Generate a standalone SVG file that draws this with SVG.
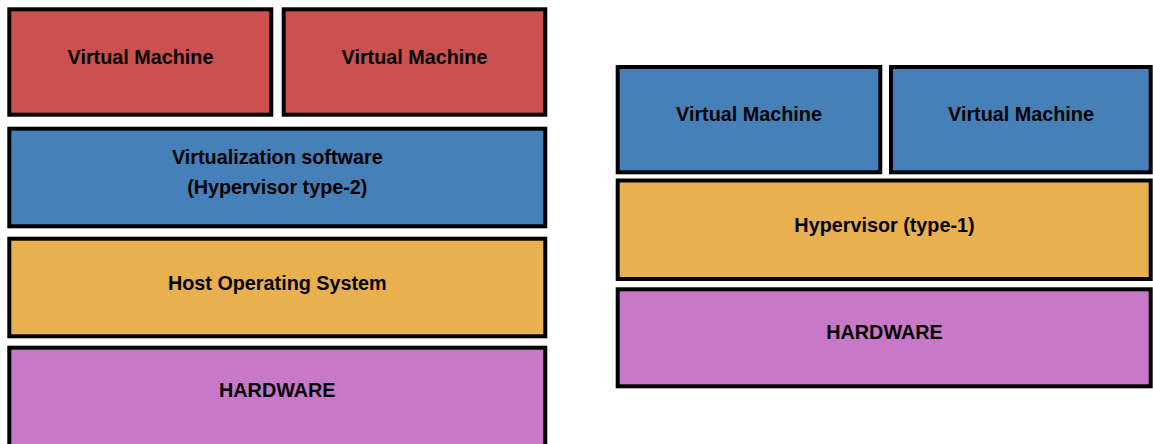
<svg xmlns="http://www.w3.org/2000/svg" width="1153" height="444" viewBox="0 0 1153 444">
  <style>
    .box { stroke: #000; stroke-width: 4; }
    .vm-red { fill: #CD5050; }
    .blue { fill: #4580B8; }
    .orange { fill: #E8B04E; }
    .purple { fill: #C878C8; }
    .label { font-family: "Liberation Sans", Arial, sans-serif; font-weight: bold; font-size: 19.8px; fill: #000; text-anchor: middle; }
  </style>
  <rect width="1153" height="444" fill="#fff"/>

  <!-- Hosted (type-2) stack -->
  <g id="vm-hosted-1">
    <rect class="box vm-red" x="9.3" y="9.3" width="262" height="105.4"/>
    <text class="label" x="140.5" y="64">Virtual Machine</text>
  </g>
  <g id="vm-hosted-2">
    <rect class="box vm-red" x="283.7" y="9.3" width="261.6" height="105.4"/>
    <text class="label" x="414.5" y="64">Virtual Machine</text>
  </g>
  <g id="virtualization-software">
    <rect class="box blue" x="9.3" y="128.7" width="536" height="97.6"/>
    <text class="label" x="277.3" y="163.5">Virtualization software</text>
    <text class="label" x="277.3" y="193.8">(Hypervisor type-2)</text>
  </g>
  <g id="host-os">
    <rect class="box orange" x="9.3" y="238.7" width="536" height="97.6"/>
    <text class="label" x="277.3" y="289.5">Host Operating System</text>
  </g>
  <g id="hardware-hosted">
    <rect class="box purple" x="9.3" y="347.7" width="536" height="110"/>
    <text class="label" x="277.3" y="397">HARDWARE</text>
  </g>

  <!-- Bare-metal (type-1) stack -->
  <g id="vm-bare-1">
    <rect class="box blue" x="617.7" y="67" width="262.6" height="105.3"/>
    <text class="label" x="749" y="121">Virtual Machine</text>
  </g>
  <g id="vm-bare-2">
    <rect class="box blue" x="891" y="67" width="259.7" height="105.3"/>
    <text class="label" x="1021" y="121">Virtual Machine</text>
  </g>
  <g id="hypervisor">
    <rect class="box orange" x="617.7" y="180.5" width="533" height="98.5"/>
    <text class="label" x="884.5" y="232">Hypervisor (type-1)</text>
  </g>
  <g id="hardware-bare">
    <rect class="box purple" x="617.7" y="289.3" width="533" height="97"/>
    <text class="label" x="884.5" y="338.5">HARDWARE</text>
  </g>

  <g id="connectors"></g>
</svg>
